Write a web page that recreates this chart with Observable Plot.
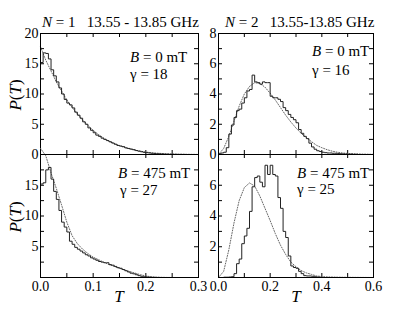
<!DOCTYPE html>
<html>
<head>
<meta charset="utf-8">
<script src="https://cdn.jsdelivr.net/npm/d3@7"></script>
<script src="https://cdn.jsdelivr.net/npm/@observablehq/plot@0.6"></script>
<style>
  html, body { margin: 0; padding: 0; background: #fff; }
  #chart { position: relative; width: 415px; height: 318px; overflow: hidden; }
  #chart svg { position: absolute; left: 0; top: 0; }
</style>
</head>
<body>
<div id="chart"></div>
<script>
// ---------- data ----------
// histogram bin widths (T units)
const binWidthN1 = 0.005;
const binWidthN2 = 0.01;

// N = 1, B = 0 mT histogram (bins from T = 0)
const histN1B0 = [15.2,16.8,16.7,15.8,14.0,13.0,12.0,11.0,10.0,9.1,
  8.5,8.2,7.7,7.0,6.5,6.0,5.4,5.0,4.4,4.0,
  3.6,3.2,3.0,2.7,2.5,2.3,2.1,1.9,1.7,1.5,
  1.4,1.3,1.1,1.0,0.9,0.8,0.65,0.55,0.45,0.35,
  0.3,0.25,0.2,0.15,0.12,0.1,0.08,0.05,0.04,0.03,
  0.02,0.02,0.01,0.01,0.01,0,0,0,0,0];
// N = 1, B = 475 mT histogram
const histN1B475 = [15.2,15.4,17.5,17.9,16.0,14.0,12.7,10.9,9.0,8.2,
  7.4,5.9,5.4,4.9,4.6,4.3,4.0,3.7,3.5,3.2,
  3.0,2.8,2.6,2.5,2.4,2.4,2.1,2.0,1.8,1.6,
  1.5,1.3,1.1,0.9,0.7,0.6,0.45,0.3,0.2,0.12,
  0.08,0.05,0.03,0.02,0.01,0,0,0,0,0,
  0,0,0,0,0,0,0,0,0,0];
// N = 2, B = 0 mT histogram
const histN2B0 = [0.05,0.1,0.15,0.45,1.35,1.95,2.45,2.9,3.0,3.4,
  3.75,4.2,4.3,5.25,4.8,4.75,4.65,4.8,4.75,4.75,
  3.85,3.75,3.75,3.65,3.5,3.1,2.9,2.65,2.45,2.3,
  2.1,1.65,1.4,1.2,1.05,0.75,0.5,0.35,0.25,0.2,
  0.15,0.12,0.1,0.1,0.08,0.08,0.06,0.05,0.04,0.03,
  0.02,0.02,0.01,0.01,0,0,0,0,0,0];
// N = 2, B = 475 mT histogram
const histN2B475 = [0,0,0.02,0.02,0.03,0.05,0.25,0.9,1.2,2.2,
  2.7,3.2,4.3,5.9,6.5,6.6,6.2,5.9,7.3,6.7,
  7.3,6.7,6.6,5.2,4.5,3.0,2.6,1.4,0.75,0.65,
  0.6,0.4,0.25,0.12,0.1,0.1,0.08,0.05,0.03,0.02,
  0,0,0,0,0,0,0,0,0,0,
  0,0,0,0,0,0,0,0,0,0];

// fitted distributions (dotted)
const fitTN1 = [0,0.01,0.02,0.03,0.04,0.05,0.06,0.07,0.08,0.09,0.10,0.11,0.12,0.13,0.14,0.15,0.16,0.17,0.18,0.19,0.20,0.21,0.22,0.24,0.26,0.28,0.30];
const fitN1B0 = [17.8,15.6,13.8,12.0,10.5,9.0,7.8,6.7,5.7,4.8,4.0,3.3,2.7,2.2,1.8,1.45,1.15,0.9,0.7,0.55,0.4,0.3,0.22,0.12,0.06,0.03,0.01];
const fitN1B475 = [21.0,19.8,17.0,14.5,11.8,9.0,6.8,5.5,4.6,3.9,3.3,2.9,2.5,2.1,1.8,1.5,1.2,0.95,0.7,0.45,0.25,0.12,0.05,0.01,0,0,0];
const fitTN2 = [0,0.02,0.04,0.06,0.08,0.10,0.12,0.14,0.16,0.18,0.20,0.22,0.24,0.26,0.28,0.30,0.32,0.34,0.36,0.38,0.40,0.42,0.44,0.46,0.48,0.50,0.55,0.60];
const fitN2B0 = [0,0.4,1.2,2.2,3.2,4.0,4.5,4.75,4.7,4.45,4.05,3.6,3.1,2.6,2.15,1.75,1.4,1.1,0.85,0.6,0.45,0.32,0.22,0.15,0.1,0.07,0.03,0.01];
const fitN2B475 = [0,0.4,1.8,3.55,5.0,5.85,6.15,5.95,5.3,4.5,3.7,2.85,2.1,1.5,1.0,0.7,0.45,0.3,0.2,0.1,0.06,0.04,0.03,0.02,0.015,0.01,0.005,0];

// tick labels
const yLabelsN1Top = [0,5,10,15,20];
const yLabelsN1Bottom = [5,10,15];
const yLabelsN2Top = [0,2,4,6,8];
const yLabelsN2Bottom = [2,4,6];
const xLabelsN1 = [0,0.1,0.2,0.3];
const xLabelsN2 = [0,0.2,0.4,0.6];

// ---------- drawing ----------
const W = 415, H = 318;
const FONT = "'Liberation Serif', 'Times New Roman', serif";

function steps(values, w) {
  const pts = values.map((v, i) => ({T: i * w, P: v}));
  pts.push({T: values.length * w, P: values[values.length - 1]});
  return pts;
}
function curve(ts, ps) { return ts.map((t, i) => ({T: t, P: ps[i]})); }
function range(a, b, s) { const r = []; for (let v = a; v <= b + 1e-9; v += s) r.push(+v.toFixed(4)); return r; }

function panel(o) {
  const frameH = o.bottom - o.top, frameW = o.right - o.left;
  const marks = [
    Plot.tickX(o.xMinor, {x: d => d, insetTop: frameH - 4, stroke: "#000"}),
    Plot.tickX(o.xMinor, {x: d => d, insetBottom: frameH - 4, stroke: "#000"}),
    Plot.tickY(o.yMinor, {y: d => d, insetLeft: frameW - 4, stroke: "#000"}),
    Plot.tickY(o.yMinor, {y: d => d, insetRight: frameW - 4, stroke: "#000"}),
    Plot.axisY(o.yLabels, {tickSize: 0, tickPadding: 2, label: null, tickFormat: d => String(d), fill: "#000"}),
    Plot.lineY(o.fit, {x: "T", y: "P", stroke: "#666", strokeWidth: 1, strokeDasharray: "1,1.6"}),
    Plot.lineY(o.hist, {x: "T", y: "P", curve: "step-after", stroke: "#222", strokeWidth: 1}),
    Plot.frame({stroke: "#000"})
  ];
  if (o.xLabels) marks.push(Plot.axisX(o.xLabels, {tickSize: 0, tickPadding: 4, label: null, tickFormat: d3.format(".1f"), fill: "#000"}));
  return Plot.plot({
    width: W, height: H,
    marginLeft: o.left, marginRight: W - o.right, marginTop: o.top, marginBottom: H - o.bottom,
    x: {domain: o.xDomain, axis: o.xLabels ? undefined : null},
    y: {domain: o.yDomain},
    style: {fontFamily: FONT, fontSize: "14px", background: "transparent", overflow: "visible", color: "#000"},
    marks
  });
}

const chart = document.getElementById("chart");
chart.append(panel({left: 40, right: 198, top: 33, bottom: 154, xDomain: [0, 0.3], yDomain: [0, 20],
  xMinor: range(0.05, 0.25, 0.05), yMinor: range(2.5, 17.5, 2.5), yLabels: yLabelsN1Top,
  hist: steps(histN1B0, binWidthN1), fit: curve(fitTN1, fitN1B0)}));
chart.append(panel({left: 218, right: 373, top: 33, bottom: 154, xDomain: [0, 0.6], yDomain: [0, 8],
  xMinor: range(0.1, 0.5, 0.1), yMinor: range(1, 7, 1), yLabels: yLabelsN2Top,
  hist: steps(histN2B0, binWidthN2), fit: curve(fitTN2, fitN2B0)}));
chart.append(panel({left: 40, right: 198, top: 154, bottom: 277, xDomain: [0, 0.3], yDomain: [0, 20],
  xMinor: range(0.05, 0.25, 0.05), yMinor: range(2.5, 17.5, 2.5), yLabels: yLabelsN1Bottom, xLabels: xLabelsN1,
  hist: steps(histN1B475, binWidthN1), fit: curve(fitTN1, fitN1B475)}));
chart.append(panel({left: 218, right: 373, top: 154, bottom: 277, xDomain: [0, 0.6], yDomain: [0, 8],
  xMinor: range(0.1, 0.5, 0.1), yMinor: range(1, 7, 1), yLabels: yLabelsN2Bottom, xLabels: xLabelsN2,
  hist: steps(histN2B475, binWidthN2), fit: curve(fitTN2, fitN2B475)}));

// ---------- annotations ----------
const svg = d3.select(chart).append("svg").attr("width", W).attr("height", H)
  .style("font-family", FONT).style("overflow", "visible");
function label(x, y, parts, size, anchor = "start", transform = null) {
  const t = svg.append("text").attr("x", x).attr("y", y).attr("font-size", size)
    .attr("text-anchor", anchor).style("white-space", "pre").attr("fill", "#000");
  if (transform) t.attr("transform", transform).attr("x", 0).attr("y", 0);
  parts.forEach(([s, it]) => t.append("tspan").attr("font-style", it ? "italic" : "normal").text(s));
}
label(42, 27, [["N", 1], [" = 1   13.55 - 13.85 GHz", 0]], 15);
label(225, 27, [["N", 1], [" = 2   13.55-13.85 GHz", 0]], 15);
label(130, 62, [["B", 1], [" = 0 mT", 0]], 15);
label(130, 79, [["γ = 18", 0]], 15);
label(312, 56, [["B", 1], [" = 0 mT", 0]], 15);
label(312, 75, [["γ = 16", 0]], 15);
label(118, 178, [["B", 1], [" = 475 mT", 0]], 15);
label(120, 195, [["γ = 27", 0]], 15);
label(297, 178, [["B", 1], [" = 475 mT", 0]], 15);
label(297, 194, [["γ = 25", 0]], 15);
label(0, 0, [["P", 1], ["(", 0], ["T", 1], [")", 0]], 17, "middle", "translate(21,95) rotate(-90)");
label(0, 0, [["P", 1], ["(", 0], ["T", 1], [")", 0]], 17, "middle", "translate(21,217) rotate(-90)");
label(119, 302, [["T", 1]], 17, "middle");
label(296, 302, [["T", 1]], 17, "middle");
</script>
</body>
</html>
